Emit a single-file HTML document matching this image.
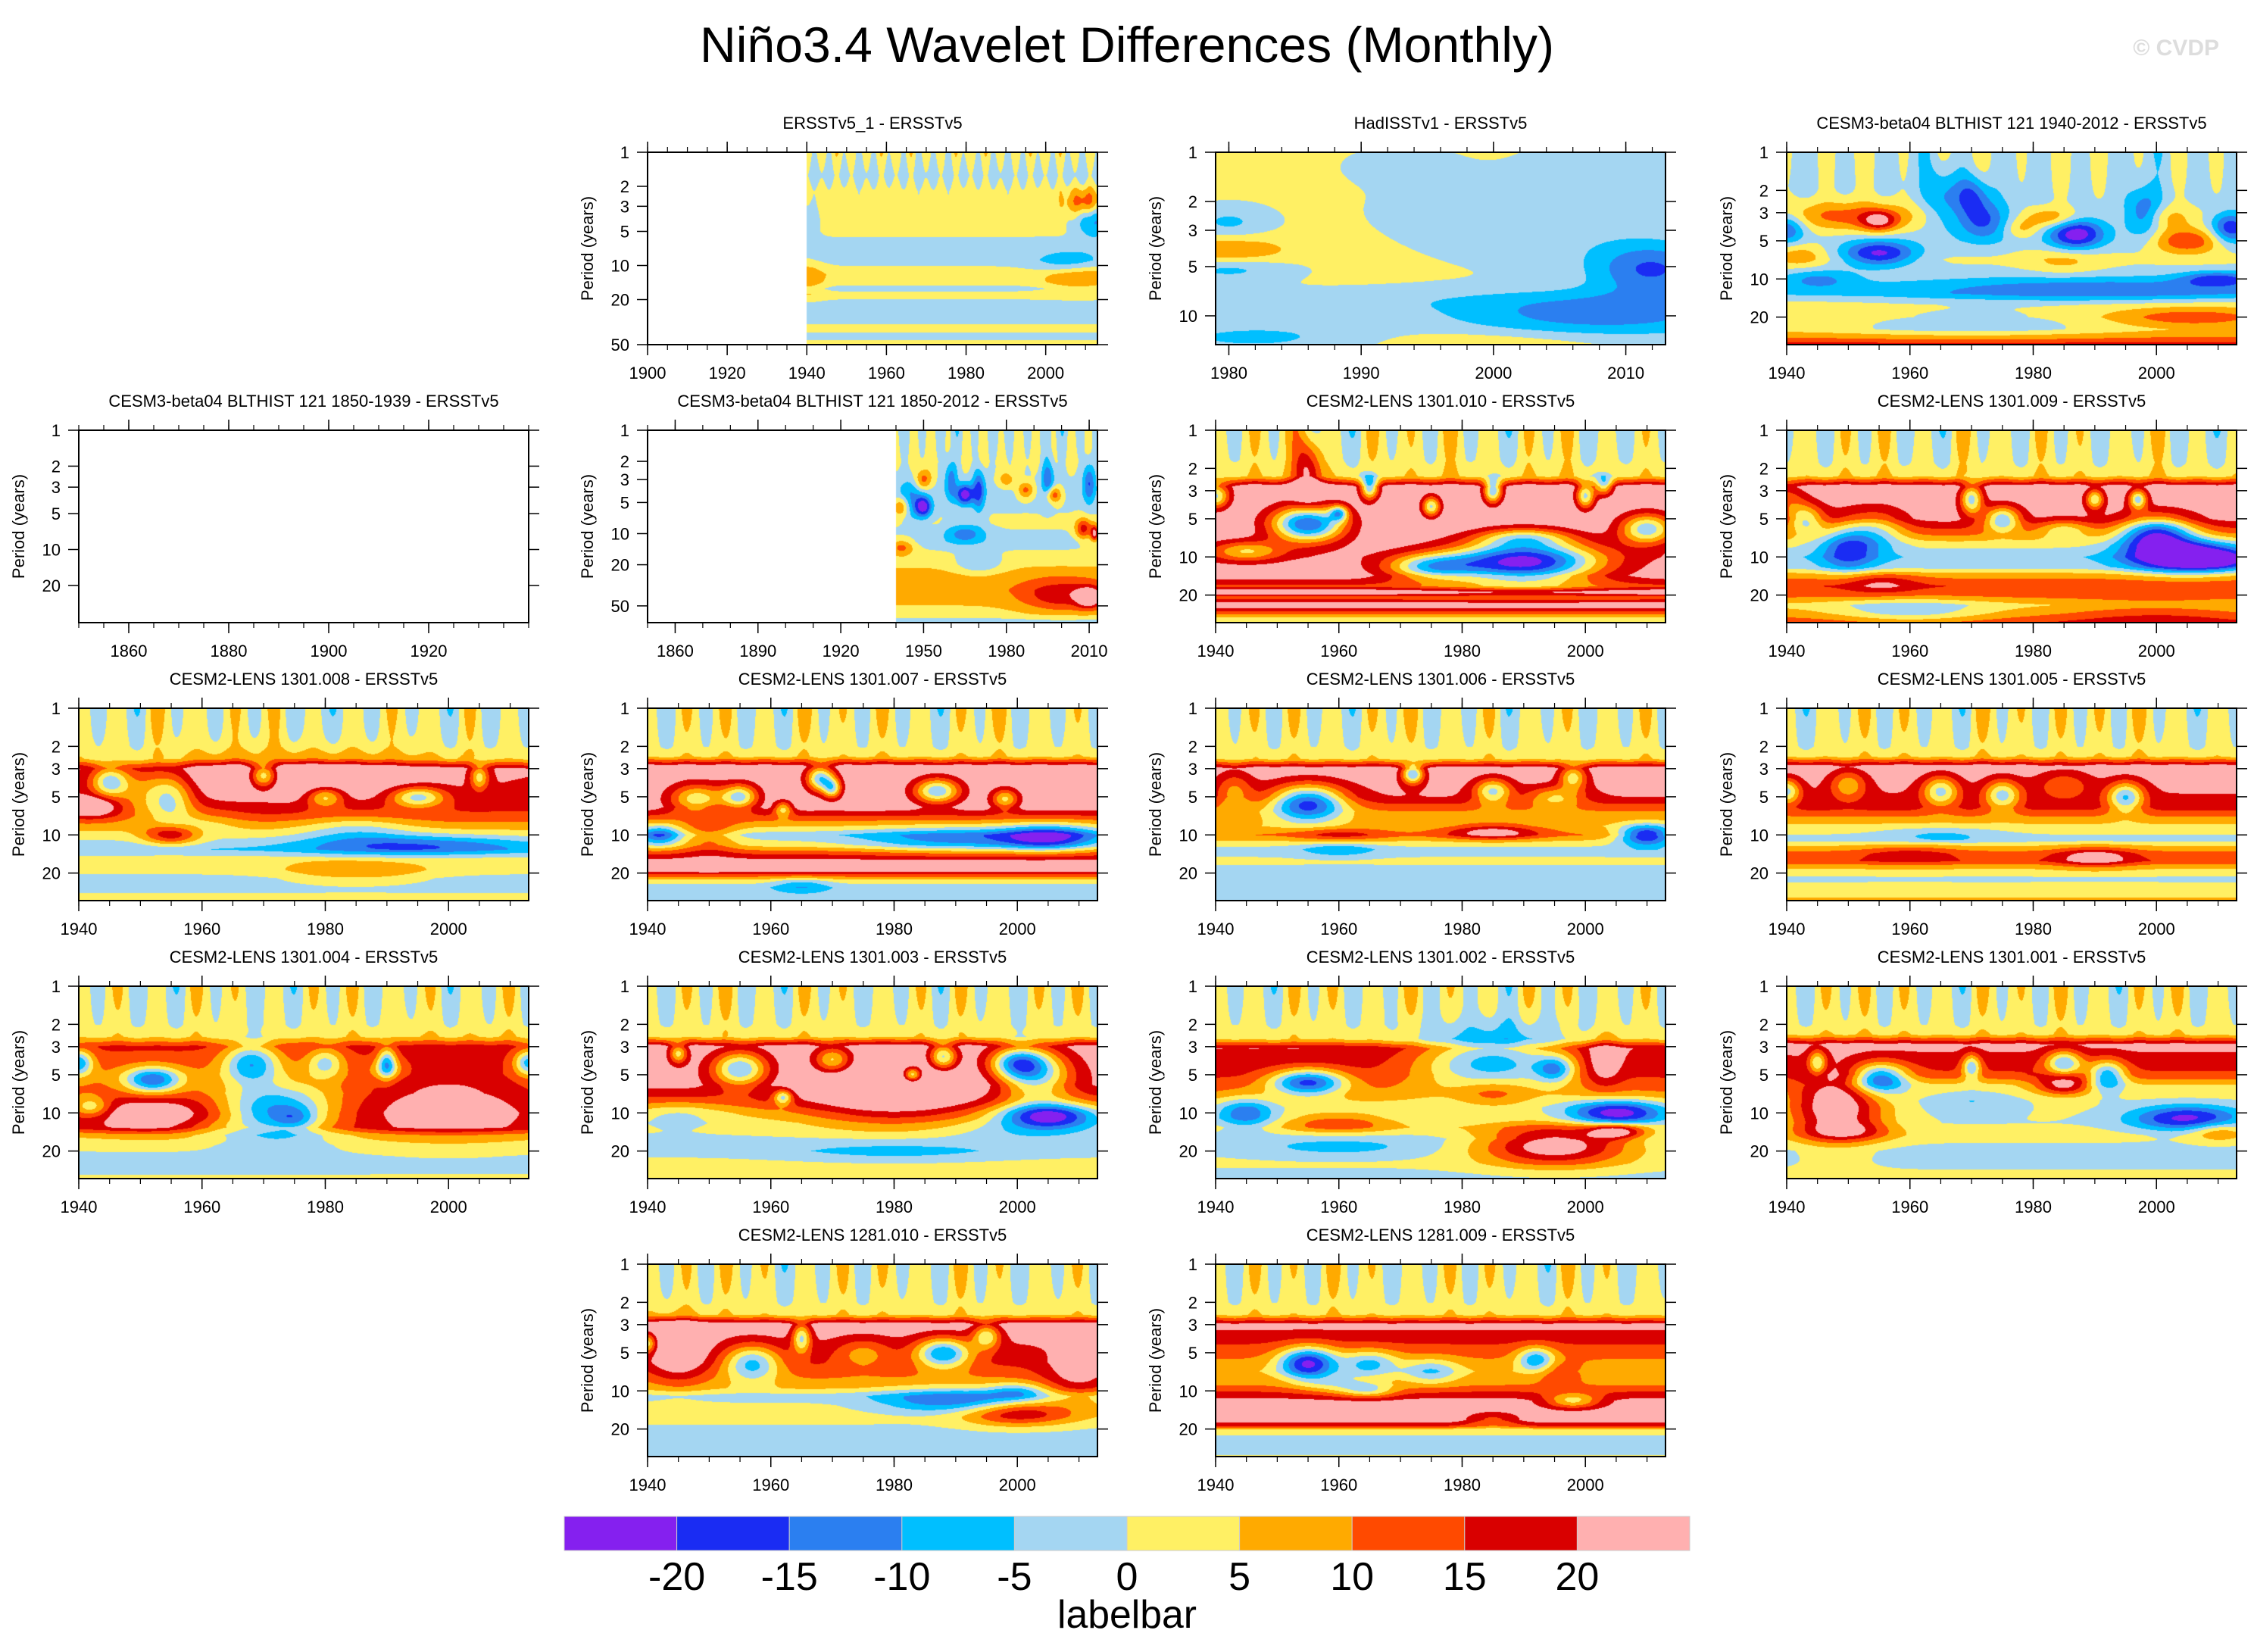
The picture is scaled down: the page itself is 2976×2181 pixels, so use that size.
<!DOCTYPE html>
<html><head><meta charset="utf-8"><style>
html,body{margin:0;padding:0;background:#fff;}
#wrap{position:relative;width:2976px;height:2181px;overflow:hidden;background:#fff;}
canvas{position:absolute;}
svg{position:absolute;left:0;top:0;}
</style></head><body>
<div id="wrap">
<svg id="ov" width="2976" height="2181">
<text x="1488" y="82" font-family="Liberation Sans, sans-serif" font-size="66" text-anchor="middle" textLength="1128" lengthAdjust="spacingAndGlyphs">Niño3.4 Wavelet Differences (Monthly)</text>
<text x="2930" y="73" font-family="Liberation Sans, sans-serif" font-size="30" font-weight="bold" fill="#dddddd" text-anchor="end">© CVDP</text>
<text x="1488" y="2149" font-family="Liberation Sans, sans-serif" font-size="52" text-anchor="middle" textLength="184" lengthAdjust="spacingAndGlyphs">labelbar</text>
</svg>
</div>
<script>
const panelTitles=["ERSSTv5_1 - ERSSTv5","HadISSTv1 - ERSSTv5","CESM3-beta04 BLTHIST 121 1940-2012 - ERSSTv5","CESM3-beta04 BLTHIST 121 1850-1939 - ERSSTv5","CESM3-beta04 BLTHIST 121 1850-2012 - ERSSTv5","CESM2-LENS 1301.010 - ERSSTv5","CESM2-LENS 1301.009 - ERSSTv5","CESM2-LENS 1301.008 - ERSSTv5","CESM2-LENS 1301.007 - ERSSTv5","CESM2-LENS 1301.006 - ERSSTv5","CESM2-LENS 1301.005 - ERSSTv5","CESM2-LENS 1301.004 - ERSSTv5","CESM2-LENS 1301.003 - ERSSTv5","CESM2-LENS 1301.002 - ERSSTv5","CESM2-LENS 1301.001 - ERSSTv5","CESM2-LENS 1281.010 - ERSSTv5","CESM2-LENS 1281.009 - ERSSTv5"];
const panelCols=[1,2,3,0,1,2,3,0,1,2,3,0,1,2,3,1,2];
const panelRows=[0,0,0,1,1,1,1,2,2,2,2,3,3,3,3,4,4];
const yearRanges=[[1900,2013],[1979,2013],[1940,2013],[1850,1940],[1850,2013],[1940,2013],[1940,2013],[1940,2013],[1940,2013],[1940,2013],[1940,2013],[1940,2013],[1940,2013],[1940,2013],[1940,2013],[1940,2013],[1940,2013]];
const dataStarts=[1940,1979,1940,9999,1940,1940,1940,1940,1940,1940,1940,1940,1940,1940,1940,1940,1940];
const periodMax=[50,15,33,41,72.6,33,33,33,33,33,33,33,33,33,33,33,33];
const yTickSets=[[1,2,3,5,10,20,50],[1,2,3,5,10],[1,2,3,5,10,20],[1,2,3,5,10,20],[1,2,3,5,10,20,50]];
const stdYTicks=[1,2,3,5,10,20];
const xTickSets=[[1900,1920,1940,1960,1980,2000],[1980,1990,2000,2010],[1940,1960,1980,2000],[1860,1880,1900,1920],[1860,1890,1920,1950,1980,2010]];
const stdXTicks=[1940,1960,1980,2000];
const xMinorSteps=[5,2,5,5,10,5,5,5,5,5,5,5,5,5,5,5,5];
const levels=[-20,-15,-10,-5,0,5,10,15,20];
const levelLabels=["-20","-15","-10","-5","0","5","10","15","20"];
const colors=["#8520ef","#1a2cf3","#2b7ff0","#00bfff","#a4d6f2","#fff064","#ffaa00","#ff4a00","#d90000","#ffb0b0"];
const panelBases=[
[[1,2],[1.6,-2],[2.2,2],[3,2],[5,1],[7,-2],[9,-2],[12,3],[14,2],[16,-2],[18,2],[22,-2],[30,-2],[36,2],[42,-2],[50,2]],
[[1,1],[15,1]],
[[1,-1],[2,-1],[3,-1],[5,-2],[7,1],[10,-2],[13,-5],[16,3],[20,6],[25,4],[30,12],[33,18]],
[[1,0],[41,0]],
[[1,-1],[2,1],[4,-2],[8,1],[12,-2],[17,2],[25,7],[35,8],[45,6],[60,3],[72,-3]],
[[1,0],[1.7,1],[2.3,4],[2.8,24],[6,25],[10,22],[14,24],[17,14],[19,25],[21,12],[24,25],[27,14],[30,5],[33,2]],
[[1,0],[1.8,1],[2.3,4],[2.8,24],[5,22],[6.5,12],[8,2],[10,-4],[12,-2],[14,8],[17,15],[20,12],[24,4],[28,8],[33,14]],
[[1,0],[2,1],[2.5,4],[3,20],[5,18],[7,14],[9,6],[11,0],[13,-5],[16,4],[19,2],[22,-2],[27,-1],[33,2]],
[[1,0],[2,1],[2.4,4],[2.9,24],[6,24],[7.5,12],[9,3],[10,-3],[12,3],[14,14],[16,22],[19,24],[21,12],[23,3],[26,-3],[33,-2]],
[[1,0],[2,1],[2.5,4],[3,24],[5,20],[6.5,10],[8.5,6],[10,10],[11.5,3],[13,-2],[16,1],[20,-2],[33,-2]],
[[1,0],[2,1],[2.4,4],[2.9,24],[6,18],[7.5,8],[9,2],[11,-2],[12,4],[14,12],[16,14],[18,6],[22,-1],[27,2],[33,6]],
[[1,0],[2,1],[2.5,4],[3,16],[5,10],[7,10],[10,14],[13,15],[15,5],[18,1],[22,-1],[27,-2],[33,1]],
[[1,0],[2,1],[2.5,4],[3,24],[6,22],[8,14],[10,6],[12,2],[15,0],[20,-2],[25,2],[33,3]],
[[1,0],[2,1],[2.6,4],[3.1,20],[5,16],[7,10],[9,2],[11,0],[13,3],[16,-2],[20,0],[25,1],[33,-2]],
[[1,0],[2,1],[2.4,4],[2.9,22],[5,14],[6,5],[8,1],[12,0],[15,2],[20,-2],[33,1]],
[[1,0],[2,1],[2.5,4],[3,24],[6,16],[8,10],[9.5,6],[11,-2],[13,1],[16,2],[20,-1],[25,-3],[33,-2]],
[[1,0],[2,1],[2.5,4],[3,22],[5,12],[7,6],[9,10],[12,22],[17,24],[19,15],[20,5],[22,1],[25,-5],[30,-2],[33,1]]
];
const panelBlobs=[
[[2010,2.8,14,3,0.06],[2012,3.9,-13,3,0.08],[2006,10,-9,6,0.06],[2008,12.5,11,6,0.06],[1940,13,7,3,0.08],[1940,4,-6,2,0.08]],
[[2000,2.2,-3,6,0.1],[1993,1.2,-2.5,3,0.06],[2008,1.3,-3,4,0.1],[1980,4.2,12,3,0.05],[1980,5,-12,3,0.04],[1980,2.7,-7,2,0.05],[2012,5.2,-16,3,0.08],[2008,10,-13,8,0.07],[1982,13.5,-7,6,0.05],[1995,8,-3,20,0.04],[2000,14.5,4,6,0.04],[2005,3.5,-3,6,0.1]],
[[1950,3.2,13,8,0.06],[1955,3.5,16,2,0.04],[1972,3.5,-14,3,0.08],[1965,2.2,-9,2,0.12],[1970,2.2,-14,2,0.08],[1987,4.4,-22,3,0.06],[1955,6.3,-21,4,0.05],[1940,4,-15,2,0.06],[2005,5,16,4,0.05],[2002,3.3,8,3,0.05],[1983,3.3,11,3,0.04],[1978,4,8,2,0.04],[1998,3,-13,2,0.1],[2012,4,-18,2,0.06],[1942,6.5,8,3,0.05],[1990,12,-10,20,0.05],[2010,10,-14,4,0.03],[1945,10,-9,4,0.04],[1985,7.3,6,4,0.05],[1970,22,-8,15,0.06],[2005,20,8,8,0.04]],
[],
[[1942,5.5,14,2,0.05],[1942,13.5,12,3,0.04],[1945,4.8,-10,3,0.1],[1950,5.5,-22,2,0.05],[1950,3,13,2,0.05],[1965,4.2,-22,2,0.05],[1960,3,-12,1.5,0.1],[1970,3.8,-16,1.5,0.1],[1980,3,9,2,0.04],[1987,3.8,13,2,0.04],[1997,4.2,16,2,0.04],[1995,3,-14,1.5,0.1],[2010,3.2,-14,1.5,0.1],[2008,9,17,2,0.05],[2012,10,21,1,0.04],[1965,10,-12,5,0.05],[1970,20,-8,6,0.05],[2000,40,12,10,0.08],[2010,42,18,3,0.05]],
[[1955,5.5,-40,4,0.07],[1940,3.3,-25,1.5,0.05],[1960,4.5,-22,1,0.03],[1965,2.8,-28,1,0.05],[1975,4,-25,1,0.04],[1985,3,-28,1,0.05],[2000,3.3,-25,1,0.05],[2003,2.7,-22,1,0.04],[1990,11,-45,8,0.08],[1975,12,-25,5,0.05],[2010,6,-28,3,0.06],[1990,7,-18,5,0.04],[1945,9,-18,4,0.04],[1955,2,18,1.5,0.12]],
[[1943,5,-20,2,0.06],[1950,8,-18,3,0.1],[1955,6,-12,3,0.08],[1975,5,-25,2,0.05],[1970,3.5,-25,1.2,0.06],[1985,6,-12,3,0.04],[2000,6.5,-30,4,0.07],[2005,10,-30,6,0.06],[2010,10.5,-10,3,0.03],[1940,3.5,-10,2,0.06],[1955,16,8,4,0.04],[1990,3.5,-22,1,0.04],[1997,3.5,-25,1,0.04],[1960,27,-10,8,0.05],[2000,30,6,10,0.07]],
[[1975,3.5,10,15,0.1],[1945,3.8,-22,2,0.06],[1955,5,-18,2.5,0.1],[1950,4.5,-10,3,0.1],[1970,3.4,-25,1.5,0.05],[1980,5,-18,2,0.04],[1995,5,-22,3,0.04],[2005,3.5,-18,1,0.05],[1955,10,18,3,0.04],[1942,6,15,3,0.04],[1960,8,-6,4,0.05],[1985,9,-8,6,0.06],[1995,12,-12,12,0.04],[1985,20,8,8,0.04]],
[[1948,5.2,-22,3,0.06],[1955,5,-25,2,0.05],[1968,3.6,-28,1.5,0.05],[1970,4.3,-22,1,0.04],[1987,4.5,-28,2.5,0.05],[1962,6.2,-18,1,0.03],[1998,5.2,-20,1.5,0.04],[2005,10.5,-20,5,0.05],[1990,11,-12,10,0.05],[1942,10,-14,2,0.04],[1950,10,10,3,0.08],[1965,25,-8,3,0.03]],
[[1955,5.5,-32,4,0.07],[1943,4.5,-12,2,0.08],[1972,3.3,-28,1.2,0.04],[1985,4.5,-22,2,0.05],[1998,3.5,-20,1.5,0.05],[1995,5,-15,3,0.04],[1985,9.5,15,5,0.03],[2010,10,-28,3,0.04],[1960,13,-8,4,0.03],[1960,10,8,5,0.03]],
[[1940,4.5,-22,1.5,0.05],[1950,4,-15,2,0.06],[1965,4.5,-22,2,0.06],[1975,4.8,-22,2,0.06],[1995,5,-25,2,0.06],[1985,4,-10,3,0.06],[1965,10,-6,6,0.03],[1990,15,12,4,0.04],[1960,14,6,5,0.04]],
[[1952,10,12,8,0.08],[2000,8,12,10,0.15],[1972,10,-25,6,0.1],[1975,11,-8,2,0.04],[1952,5.5,-25,3,0.05],[1968,4,-22,3,0.08],[1980,4,-15,2,0.06],[1990,4,-20,1,0.06],[1940,4,-22,1.5,0.05],[2013,4,-22,1.5,0.05],[1942,9,-15,2,0.04],[1962,13,-5,4,0.03],[1990,4.5,-8,2,0.04]],
[[1980,8,15,10,0.12],[1955,4.5,-28,3,0.07],[1945,3.4,-20,1,0.04],[1962,7.5,-20,1,0.03],[1970,3.8,-20,2,0.05],[1983,5,-25,1,0.03],[1988,3.6,-25,1.5,0.05],[2000,4,-25,3,0.06],[2005,10.5,-28,5,0.05],[2003,5,-25,4,0.1],[1945,10,-6,5,0.05],[1980,20,-6,12,0.05],[2000,14,-4,8,0.04]],
[[1955,5.7,-30,4,0.05],[1945,10,-15,3,0.06],[1985,4,-25,8,0.12],[1985,7,10,4,0.06],[2005,10,-25,5,0.05],[2003,4,10,2,0.1],[1995,4.5,-18,2,0.05],[1960,12,12,6,0.04],[1995,18,25,8,0.08],[2005,14,20,3,0.03],[1960,19,-6,10,0.04]],
[[1948,9,25,5,0.13],[1955,5.3,-28,3,0.06],[1945,4,-20,1,0.05],[1970,4.3,-20,1,0.05],[1985,4,-22,2,0.05],[1992,5,-22,2,0.06],[1985,6,18,3,0.04],[2005,11,-22,6,0.05],[1950,14,10,5,0.04],[2010,14,10,3,0.04],[1970,8,-6,5,0.05]],
[[1945,5,12,3,0.12],[1957,6,-22,3,0.07],[1975,5,-10,3,0.06],[1988,5,-28,3,0.06],[1965,3.8,-22,1,0.06],[1995,3.7,-20,1.5,0.05],[2010,8,12,4,0.1],[1990,12,-15,8,0.05],[2000,10,-10,3,0.03],[2000,15,18,6,0.05],[1940,4.2,-20,1,0.04]],
[[1955,6,-30,3,0.06],[1965,6,-15,3,0.05],[1975,7,-12,3,0.05],[1992,5.7,-20,2,0.05],[1965,10,-12,3,0.03],[1998,12,-18,3,0.03],[1985,17,-10,3,0.03],[1960,9,-8,4,0.04],[1995,7,8,3,0.04]]
];
const panelStripes=[
[3,-3,2,-3,4,-2,3,-4,2,-3,4,-2,3,-3,4,-4,2,-3,3,-4,4,-2,3,-3,4,-3,2,-4,3,-3,4,-2,3,-3,4,-3,2,-4,3,-3],
[],
[2,-4,4,-2,5,-3,2,-5,4,-2,5,-4,2,-3,5,-2,4,-4,2,-5,4,-2,3,-4],
[],
[2,-4,4,-2,5,-3,2,-5,4,-2,5,-4,2,-3,5,-2,4,-4,2,-5,4,-2,3,-4],
[4,-3,7,-2,9,-4,3,-6,8,-2,6,-4,9,-3,4,-6,7,-2,8,-5,3,-4,6,-3],
[-2,5,-5,7,-3,8,-4,3,-6,9,-2,4,-5,8,-3,6,-5,4,-2,9,-5,3,-6,5],
[5,-3,4,-6,9,-2,5,-4,7,-3,8,-5,3,-6,5,-4,7,-2,4,-6,8,-5,3,-4],
[4,-5,7,-3,8,-5,4,-6,9,-2,6,-4,8,-3,4,-6,7,-2,9,-5,4,-3,6,-5],
[5,-2,7,-5,8,-3,4,-6,7,-2,9,-5,4,-3,8,-6,4,-2,7,-5,4,-3,8,-5],
[4,-6,5,-2,8,-5,7,-3,4,-6,9,-2,6,-5,8,-3,7,-5,9,-2,4,-6,5,-3],
[5,-3,7,-5,4,-6,8,-2,6,-5,4,-6,7,-3,8,-5,4,-2,7,-6,5,-3,8,-5],
[4,-5,7,-3,9,-5,4,-6,8,-2,6,-5,4,-3,7,-6,8,-2,4,-5,7,-3,8,-5],
[5,-3,4,-6,8,-2,7,-5,4,-3,9,-5,6,-2,4,-6,8,-3,7,-5,4,-3,7,-5],
[4,-5,7,-2,8,-5,7,-3,4,-6,8,-2,6,-5,9,-3,4,-6,7,-2,8,-5,4,-3],
[5,-3,7,-5,8,-2,6,-6,4,-3,8,-5,7,-2,4,-5,9,-3,6,-5,4,-2,7,-5],
[5,-5,8,-3,6,-5,9,-2,6,-5,4,-3,8,-5,7,-2,4,-6,9,-3,6,-5,4,-2]
];

const colLeft=[104,855,1605,2359], rowTop=[201,568,935,1302,1669], PW=594, PH=254;
const SX_SCALE=1.5, SY_SCALE=2.0;
const wrap=document.getElementById('wrap');
const ov=document.getElementById('ov');
const NS='http://www.w3.org/2000/svg';
function hex(c){return [parseInt(c.substr(1,2),16),parseInt(c.substr(3,2),16),parseInt(c.substr(5,2),16)];}
const rgb=colors.map(hex);
function colorIndex(v){let i=0;while(i<levels.length&&v>=levels[i])i++;return i;}
function baseVal(b,lp){
  const pts=b.map(q=>[Math.log10(q[0]),q[1]]);
  if(lp<=pts[0][0])return pts[0][1];
  for(let i=0;i<pts.length-1;i++){if(lp<=pts[i+1][0]){const f=(lp-pts[i][0])/(pts[i+1][0]-pts[i][0]);return pts[i][1]*(1-f)+pts[i+1][1]*f;}}
  return pts[pts.length-1][1];
}
function mk(tag,attrs,parent){const e=document.createElementNS(NS,tag);for(const k in attrs)e.setAttribute(k,attrs[k]);(parent||ov).appendChild(e);return e;}

for(let n=0;n<panelTitles.length;n++){
  const L=colLeft[panelCols[n]], T=rowTop[panelRows[n]];
  const x0=yearRanges[n][0], x1=yearRanges[n][1], ds=dataStarts[n], pm=periodMax[n], lmax=Math.log10(pm);
  const xOf=y=>L+(y-x0)/(x1-x0)*PW;
  const yOf=p=>T+Math.log10(p)/lmax*PH;
  const cv=document.createElement('canvas');
  cv.width=PW;cv.height=PH;cv.style.left=L+'px';cv.style.top=T+'px';
  
  
  wrap.insertBefore(cv,ov);
  const ctx=cv.getContext('2d');const img=ctx.createImageData(PW,PH);
  const bases=panelBases[n], blobs=panelBlobs[n].map(b=>[b[0],Math.log10(b[1]),b[2],b[3]*SX_SCALE,b[4]*SY_SCALE]), st=panelStripes[n];
  const depth=n===0?0.75:0.5;
  if(ds<x1){
    const rowBase=[];for(let py=0;py<PH;py++)rowBase.push(baseVal(bases,(py+0.5)/PH*lmax));
    for(let px=0;px<PW;px++){
      const t=x0+(px+0.5)/PW*(x1-x0);
      if(t<ds)continue;
      let s=0;
      if(st.length>1){const u=(t-ds)/(x1-ds)*(st.length-1);let i=Math.min(Math.floor(u),st.length-2);const f=u-i;const f2=(1-Math.cos(Math.PI*f))/2;s=st[i]*(1-f2)+st[i+1]*f2;}
      for(let py=0;py<PH;py++){
        const lp=(py+0.5)/PH*lmax;
        let v=rowBase[py];
        for(const b of blobs){const dx=(t-b[0])/b[3],dy=(lp-b[1])/b[4];const e=dx*dx+dy*dy;if(e<9)v+=b[2]*Math.exp(-e);}
        const w=Math.max(0,1-lp/depth);v+=s*w;
        const c=rgb[colorIndex(v)];const k=(py*PW+px)*4;
        img.data[k]=c[0];img.data[k+1]=c[1];img.data[k+2]=c[2];img.data[k+3]=255;
      }
    }
    ctx.putImageData(img,0,0);
  }
  const g=mk('g',{});
  
  
  const fr=mk('rect',{x:L,y:T,width:PW,height:PH,fill:'none',stroke:'#000','stroke-width':2},g);
  
  
  const tt=mk('text',{x:L+PW/2,y:T-31,'font-family':'Liberation Sans, sans-serif','font-size':22,'text-anchor':'middle'},g);
  tt.textContent=panelTitles[n];
  
  
  const yt=mk('text',{x:0,y:0,'font-family':'Liberation Sans, sans-serif','font-size':22,'text-anchor':'middle',transform:'translate('+(L-72)+','+(T+PH/2)+') rotate(-90)'},g);
  yt.textContent='Period (years)';
  
  
  const yts=n<5?yTickSets[n]:stdYTicks;
  for(const p of yts){
    const y=yOf(p);
    mk('line',{x1:L-14,x2:L,y1:y,y2:y,stroke:'#000','stroke-width':1.5},g);
    mk('line',{x1:L+PW,x2:L+PW+14,y1:y,y2:y,stroke:'#000','stroke-width':1.5},g);
    const tl=mk('text',{x:L-24,y:y+8,'font-family':'Liberation Sans, sans-serif','font-size':22,'text-anchor':'end'},g);
    tl.textContent=String(p);
    
    
  }
  const xts=n<5?xTickSets[n]:stdXTicks;
  const stp=xMinorSteps[n];
  for(let yr=Math.ceil(x0/stp)*stp;yr<=x1;yr+=stp){
    const x=xOf(yr);
    mk('line',{x1:x,x2:x,y1:T,y2:T-7,stroke:'#000','stroke-width':1.2},g);
    mk('line',{x1:x,x2:x,y1:T+PH,y2:T+PH+7,stroke:'#000','stroke-width':1.2},g);
  }
  for(const yr of xts){
    const x=xOf(yr);
    mk('line',{x1:x,x2:x,y1:T,y2:T-14,stroke:'#000','stroke-width':1.5},g);
    mk('line',{x1:x,x2:x,y1:T+PH,y2:T+PH+14,stroke:'#000','stroke-width':1.5},g);
    const xl=mk('text',{x:x,y:T+PH+45,'font-family':'Liberation Sans, sans-serif','font-size':22,'text-anchor':'middle'},g);
    xl.textContent=String(yr);
    
    
  }
}
const cbL=745, cbR=2231, cbT=2002, cbB=2047, cbW=(cbR-cbL)/colors.length;
for(let i=0;i<colors.length;i++){
  const r=mk('rect',{x:cbL+i*cbW,y:cbT,width:cbW,height:cbB-cbT,fill:colors[i],stroke:'#cccccc','stroke-width':1});
  
  
}
for(let i=0;i<levelLabels.length;i++){
  const t=mk('text',{x:cbL+(i+1)*cbW,y:2099,'font-family':'Liberation Sans, sans-serif','font-size':52,'text-anchor':'middle'});
  t.textContent=levelLabels[i];
  
  
}
</script>
</body></html>
